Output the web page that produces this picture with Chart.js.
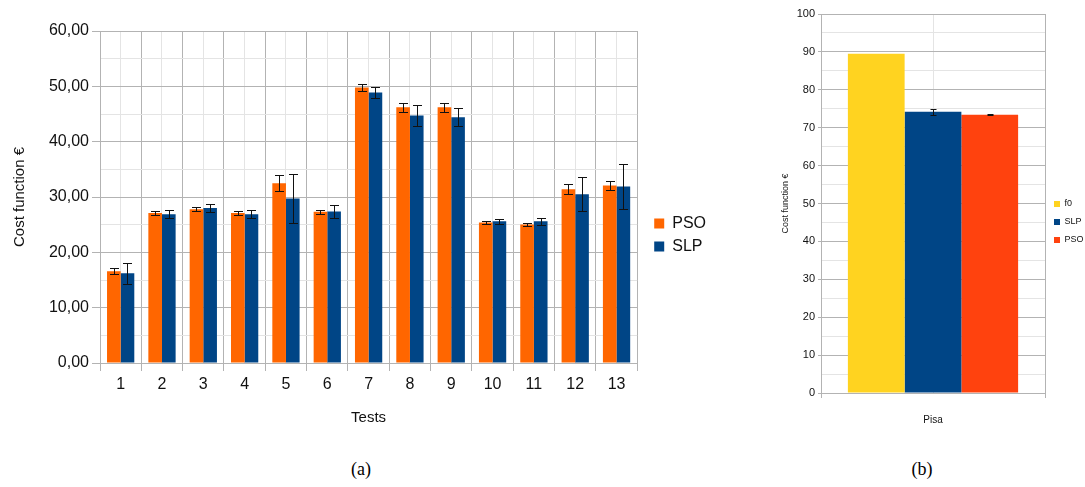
<!DOCTYPE html>
<html>
<head>
<meta charset="utf-8">
<script src="https://cdn.jsdelivr.net/npm/chart.js@4"></script>
<style>
  html,body{margin:0;padding:0;background:#fff;overflow:hidden;width:1085px;height:487px;}
  canvas{position:absolute;}
  #cA{left:0;top:0;}
  #cB{left:770px;top:0;}
  .cap{position:absolute;font-family:'Liberation Serif',serif;font-size:18px;color:#000;transform:translateX(-50%);}
</style>
</head>
<body>
<canvas id="cA" width="716" height="439"></canvas>
<canvas id="cB" width="315" height="430"></canvas>
<div class="cap" style="left:361px;top:459px;">(a)</div>
<div class="cap" style="left:922px;top:459px;">(b)</div>
<script>
// (a) tests 1..13
const tests = ['1','2','3','4','5','6','7','8','9','10','11','12','13'];
const psoMean = [16.6, 27.1, 27.8, 27.1, 32.5, 27.35, 49.8, 46.2, 46.2, 25.4, 25.05, 31.4, 32.1];
const psoErr  = [0.6, 0.35, 0.35, 0.35, 1.5, 0.35, 0.7, 0.8, 0.8, 0.3, 0.3, 0.9, 0.8];
const slpMean = [16.2, 26.9, 28.0, 26.9, 29.75, 27.4, 48.9, 44.75, 44.4, 25.6, 25.6, 30.5, 31.9];
const slpErr  = [1.95, 0.7, 0.75, 0.7, 4.4, 1.15, 0.95, 1.85, 1.6, 0.5, 0.6, 3.05, 4.05];

// (b) Pisa
const cities = ['Pisa'];
const f0Pisa = [89.5];
const slpPisa = [74.2];
const slpPisaErr = [0.8];
const psoPisa = [73.4];
const psoPisaErr = [0.1];

Chart.defaults.font.family = "'Liberation Sans', Arial, sans-serif";
Chart.defaults.color = '#222';

const major = '#b3b3b3', minor = '#e4e4e4', clear = 'rgba(0,0,0,0)';
const narrow = "'Liberation Sans Narrow', 'Liberation Sans', sans-serif";

// draws mean ± err whiskers on top of each bar, using the y scale
const errorBars = {
  id: 'errorBars',
  afterDatasetsDraw(chart, args, opts){
    const {ctx} = chart; const y = chart.scales.y;
    ctx.save();
    ctx.strokeStyle = opts.color || '#111'; ctx.lineWidth = 1;
    chart.data.datasets.forEach((ds, i) => {
      const errs = opts.errs[i]; if(!errs) return;
      chart.getDatasetMeta(i).data.forEach((bar, j) => {
        const v = ds.data[j], e = errs[j];
        const x = Math.round(bar.x) + 0.5;
        const hi = Math.round(y.getPixelForValue(v + e)) + 0.5;
        const lo = Math.round(y.getPixelForValue(v - e)) + 0.5;
        const w = opts.cap / 2;
        ctx.beginPath();
        ctx.moveTo(x, hi); ctx.lineTo(x, lo);
        ctx.moveTo(x - w, hi); ctx.lineTo(x + w, hi);
        ctx.moveTo(x - w, lo); ctx.lineTo(x + w, lo);
        ctx.stroke();
      });
    });
    ctx.restore();
  }
};

new Chart(document.getElementById('cA'), {
  type: 'bar',
  data: {
    labels: tests,
    datasets: [
      { label: 'PSO', data: psoMean, backgroundColor: '#ff6600' },
      { label: 'SLP', data: slpMean, backgroundColor: '#004586' }
    ]
  },
  options: {
    responsive: false, animation: false,
    categoryPercentage: 0.66, barPercentage: 1.0,
    layout: { padding: { top: 31, left: 0, right: 0, bottom: 0 } },
    plugins: {
      legend: {
        position: 'right', maxWidth: 70,
        labels: { boxWidth: 10, boxHeight: 10, padding: 7, color: '#111', font: { size: 16 } }
      },
      tooltip: { enabled: false },
      errorBars: { errs: [psoErr, slpErr], cap: 9 }
    },
    scales: {
      x: {
        offset: true,
        grid: { offset: true, color: major, tickColor: major, tickLength: 8 },
        border: { color: major },
        ticks: { font: { size: 16 }, color: '#111', padding: 4 },
        title: { display: true, text: 'Tests', font: { size: 15 }, color: '#111', padding: { top: 0, bottom: 12 } },
        afterFit(s){ s.height = 76; }
      },
      xc: {
        type: 'category', labels: tests, position: 'top', offset: true,
        grid: { offset: false, color: minor, drawTicks: false },
        border: { display: false }, ticks: { display: false },
        afterFit(s){ s.height = 0; }
      },
      y: {
        min: 0, max: 60,
        ticks: {
          stepSize: 5, autoSkip: false, font: { size: 16 }, color: '#111',
          callback: v => v % 10 === 0 ? v.toFixed(2).replace('.', ',') : ''
        },
        grid: {
          color: c => c.tick.value % 10 === 0 ? major : minor,
          tickColor: c => c.tick.value % 10 === 0 ? major : clear,
          tickLength: 8
        },
        border: { color: major },
        title: { display: true, text: 'Cost function €', font: { size: 15 }, color: '#111', padding: { top: 11, bottom: 0 } },
        afterFit(s){ s.width = 100; }
      },
      gap: {
        type: 'linear', position: 'right', display: true,
        grid: { display: false, drawTicks: false }, border: { display: false }, ticks: { display: false },
        afterFit(s){ s.width = 10; }
      }
    }
  },
  plugins: [errorBars]
});

new Chart(document.getElementById('cB'), {
  type: 'bar',
  data: {
    labels: cities,
    datasets: [
      { label: 'f0', data: f0Pisa, backgroundColor: '#ffd320' },
      { label: 'SLP', data: slpPisa, backgroundColor: '#004586' },
      { label: 'PSO', data: psoPisa, backgroundColor: '#ff420e' }
    ]
  },
  options: {
    responsive: false, animation: false,
    categoryPercentage: 0.76, barPercentage: 1.0,
    layout: { padding: { top: 14, left: 0, right: 0, bottom: 0 } },
    plugins: {
      legend: {
        position: 'right', maxWidth: 40,
        labels: { boxWidth: 6, boxHeight: 6, padding: 9, color: '#111', font: { size: 9, family: narrow } }
      },
      tooltip: { enabled: false },
      errorBars: { errs: [null, slpPisaErr, psoPisaErr], cap: 6 }
    },
    scales: {
      x: {
        offset: true,
        grid: { offset: true, color: major, tickColor: major, tickLength: 5 },
        border: { color: major },
        ticks: { font: { size: 10, family: narrow }, color: '#111', padding: 16 },
        afterFit(s){ s.height = 37; }
      },
      xc: {
        type: 'category', labels: cities, position: 'top', offset: true,
        grid: { offset: false, color: minor, drawTicks: false },
        border: { display: false }, ticks: { display: false },
        afterFit(s){ s.height = 0; }
      },
      y: {
        min: 0, max: 100,
        ticks: {
          stepSize: 5, autoSkip: false, padding: 3, color: '#111',
          font: { size: 11, family: narrow },
          callback: v => v % 10 === 0 ? String(v) : ''
        },
        grid: {
          color: c => c.tick.value % 10 === 0 ? major : minor,
          tickColor: c => c.tick.value % 10 === 0 ? major : clear,
          tickLength: 3
        },
        border: { color: major },
        title: { display: true, text: 'Cost function €', font: { size: 9 }, color: '#111', padding: { top: 10, bottom: 0 } },
        afterFit(s){ s.width = 51; }
      }
    }
  },
  plugins: [errorBars]
});
</script>
</body>
</html>
